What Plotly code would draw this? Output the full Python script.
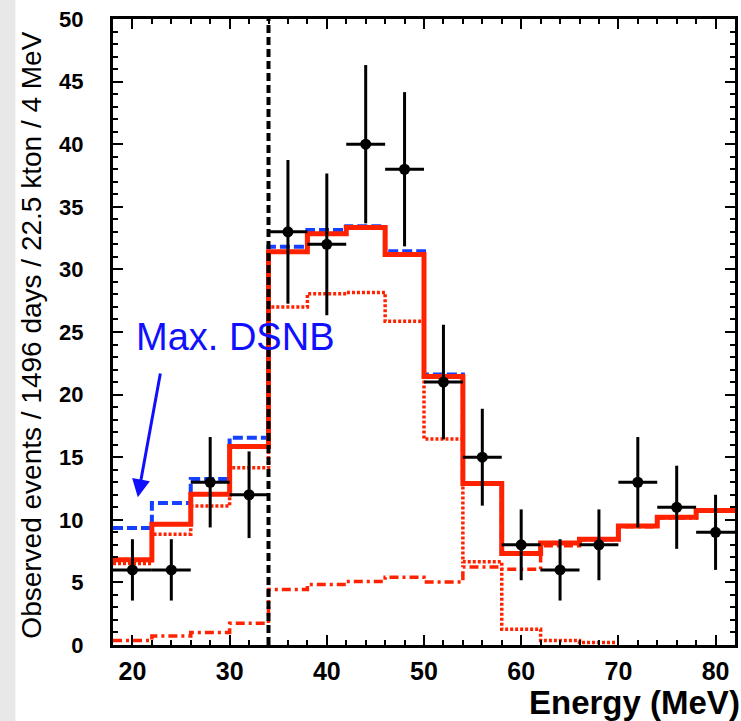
import plotly.graph_objects as go

# ---------------- data ----------------
bin_edges = [18, 22, 26, 30, 34, 38, 42, 46, 50, 54, 58, 62, 66, 70, 74, 78, 82]
bin_centers = [20, 24, 28, 32, 36, 40, 44, 48, 52, 56, 60, 64, 68, 72, 76, 80]
observed = [6, 6, 13, 12, 33, 32, 40, 38, 21, 15, 8, 6, 8, 13, 11, 9]
observed_err = [2.45, 2.45, 3.61, 3.46, 5.74, 5.66, 6.32, 6.16, 4.58, 3.87, 2.83, 2.45, 2.83, 3.61, 3.32, 3.0]
bin_half_width = [2, 2, 2, 2, 2, 2, 2, 2, 2, 2, 2, 2, 2, 2, 2, 2]

best_fit_total = [6.8, 9.65, 12.05, 15.85, 31.4, 32.85, 33.35, 31.2, 21.45, 12.9, 7.3, 8.15, 8.45, 9.5, 10.2, 10.75]
max_dsnb_total = [9.35, 11.35, 13.25, 16.55, 31.8, 33.15, 33.45, 31.45, 21.6, 12.9, 7.3, 8.15, 8.45, 9.5, 10.2, 10.75]
michel_edges = [18, 22, 26, 30, 34, 38, 42, 46, 50, 54, 58, 62, 66, 70]
michel_bkg = [6.5, 8.85, 11.1, 14.15, 27.0, 28.05, 28.15, 25.85, 16.45, 6.65, 1.25, 0.35, 0.2]
atm_bkg = [0.35, 0.72, 1.0, 1.73, 4.44, 4.84, 5.08, 5.42, 5.03, 6.24, 6.06, 7.92, 8.4, 9.45, 10.15, 10.7]

analysis_cut = 34
x_range = [18, 82]
y_range = [0, 50]

label_text = "Max. DSNB"
x_title = "Energy (MeV)"
y_title = "Observed events / 1496 days / 22.5 kton / 4 MeV"

RED = "#ff2200"
BLUE = "#1440ff"


def step(edges, vals):
    return list(edges), list(vals) + [vals[-1]]


fig = go.Figure()

# background components
ex, ey = step(michel_edges, michel_bkg)
fig.add_trace(go.Scatter(x=ex, y=ey, mode="lines", line_shape="hv",
                         line=dict(color=RED, width=3.5, dash="3px,2px"), hoverinfo="skip"))
ex, ey = step(bin_edges, atm_bkg)
fig.add_trace(go.Scatter(x=ex, y=ey, mode="lines", line_shape="hv",
                         line=dict(color=RED, width=3.5, dash="9px,4px,3px,4px"), hoverinfo="skip"))
# max DSNB total
ex, ey = step(bin_edges, max_dsnb_total)
fig.add_trace(go.Scatter(x=ex, y=ey, mode="lines", line_shape="hv",
                         line=dict(color=BLUE, width=4, dash="10px,4px"), hoverinfo="skip"))
# best fit total
ex, ey = step(bin_edges, best_fit_total)
fig.add_trace(go.Scatter(x=ex, y=ey, mode="lines", line_shape="hv",
                         line=dict(color=RED, width=5), hoverinfo="skip"))
# analysis cut line
fig.add_trace(go.Scatter(x=[analysis_cut, analysis_cut], y=y_range, mode="lines",
                         line=dict(color="black", width=4, dash="8px,4px"), hoverinfo="skip"))
# observed data
fig.add_trace(go.Scatter(
    x=bin_centers, y=observed, mode="markers",
    marker=dict(color="black", size=11),
    error_y=dict(type="data", array=observed_err, color="black", thickness=3, width=0),
    error_x=dict(type="data", array=bin_half_width, color="black", thickness=3, width=0),
))

axis_common = dict(
    showline=True, linecolor="black", linewidth=3, mirror="allticks",
    ticks="inside", ticklen=10, tickwidth=2, tickcolor="black",
    showgrid=False, zeroline=False,
)

fig.update_xaxes(range=x_range, tick0=0, dtick=10,
                 minor=dict(dtick=2, ticklen=5, tickwidth=2, tickcolor="black", ticks="inside", showgrid=False),
                 tickfont=dict(family="Liberation Sans", size=25, color="black", weight="bold"),
                 ticklabelstandoff=2, **axis_common)
fig.update_yaxes(range=y_range, tick0=0, dtick=5,
                 minor=dict(dtick=1, ticklen=5, tickwidth=2, tickcolor="black", ticks="inside", showgrid=False),
                 tickfont=dict(family="Liberation Sans", size=22, color="black", weight="bold"),
                 ticklabelstandoff=22, **axis_common)

fig.update_layout(
    width=741, height=721,
    margin=dict(l=113, r=3, t=19, b=76),
    paper_bgcolor="white", plot_bgcolor="white",
    showlegend=False,
    shapes=[dict(type="rect", xref="paper", yref="paper", x0=-0.185, x1=-0.157, y0=-0.13, y1=1.04,
                 fillcolor="#e8e8e8", line=dict(width=0), layer="below")],
    annotations=[
        dict(text=label_text, x=20.15, y=24.6, xref="x", yref="y", xanchor="left", yanchor="middle",
             showarrow=False, font=dict(family="Liberation Sans", size=38, color="#1010ff")),
        dict(text="", x=20.55, y=11.8, ax=22.9, ay=21.8, xref="x", yref="y", axref="x", ayref="y",
             showarrow=True, arrowhead=2, arrowsize=1.2, arrowwidth=3, arrowcolor="#1010ff"),
        dict(text=x_title, x=1.012, y=-0.092, xref="paper", yref="paper", xanchor="right", yanchor="middle",
             showarrow=False, font=dict(family="Liberation Sans", size=33, color="black", weight="bold")),
        dict(text=y_title, x=-0.131, y=0.495, xref="paper", yref="paper", xanchor="center", yanchor="middle",
             textangle=-90, showarrow=False, font=dict(family="Liberation Sans", size=28, color="black")),
    ],
)

fig.write_html("out.html", config={"displayModeBar": False},
               post_script="document.body.style.margin='0';document.body.style.overflow='hidden';")
